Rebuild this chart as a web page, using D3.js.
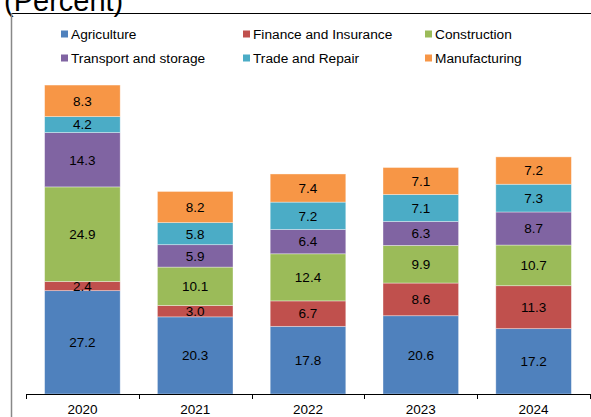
<!DOCTYPE html>
<html>
<head>
<meta charset="utf-8">
<script src="https://cdn.jsdelivr.net/npm/d3@7"></script>
<style>
  body { margin: 0; background: #fff; }
  svg { display: block; font-family: "Liberation Sans", Arial, sans-serif; }
</style>
</head>
<body>
<div id="chart"></div>
<script>
// values, bottom segment first
var years = ["2020", "2021", "2022", "2023", "2024"];
var sectors = ["Agriculture", "Finance and Insurance", "Construction", "Transport and storage", "Trade and Repair", "Manufacturing"];
var colors = ["#4F81BD", "#C0504D", "#9BBB59", "#8064A2", "#4BACC6", "#F79646"];

var agriculture = [27.2, 20.3, 17.8, 20.6, 17.2];
var finance = [2.4, 3.0, 6.7, 8.6, 11.3];
var construction = [24.9, 10.1, 12.4, 9.9, 10.7];
var transport = [14.3, 5.9, 6.4, 6.3, 8.7];
var trade = [4.2, 5.8, 7.2, 7.1, 7.3];
var manufacturing = [8.3, 8.2, 7.4, 7.1, 7.2];

var series = [agriculture, finance, construction, transport, trade, manufacturing];

let width = 591,
    height = 417;

var svg = d3.select("#chart")
    .append("svg")
    .attr("width", width)
    .attr("height", height);

// title, partly cut off at top as in the picture
svg.append("text")
    .attr("x", 4)
    .attr("y", 11)
    .style("font-size", "29px")
    .style("fill", "#000")
    .text("(Percent)");

// frame
svg.append("line")
    .attr("x1", 11).attr("x2", width)
    .attr("y1", 13.5).attr("y2", 13.5)
    .style("stroke", "#000")
    .style("stroke-width", 1);
svg.append("line")
    .attr("x1", 11.5).attr("x2", 11.5)
    .attr("y1", 13).attr("y2", height)
    .style("stroke", "#888")
    .style("stroke-width", 1.5);

var x = d3.scaleBand()
    .domain(years)
    .range([26, 590])
    .paddingInner(0.33)
    .paddingOuter(0.165);

var y = d3.scaleLinear()
    .domain([0, 90])
    .range([394, 52]);

// stack the rows
var rows = years.map(function(yr, i) {
    var row = { year: yr };
    sectors.forEach(function(s, j) { row[s] = series[j][i]; });
    return row;
});

var stacked = d3.stack().keys(sectors)(rows);

var layer = svg.selectAll("g.layer")
    .data(stacked)
    .enter()
    .append("g")
    .attr("class", "layer")
    .style("fill", function(d, i) { return colors[i]; });

layer.selectAll("rect")
    .data(function(d) { return d; })
    .enter()
    .append("rect")
    .attr("x", function(d) { return x(d.data.year); })
    .attr("y", function(d) { return y(d[1]); })
    .attr("width", x.bandwidth())
    .attr("height", function(d) { return y(d[0]) - y(d[1]); })
    .style("stroke", "#fff")
    .style("stroke-opacity", 0.45)
    .style("stroke-width", 0.8);

layer.selectAll("text")
    .data(function(d) { return d; })
    .enter()
    .append("text")
    .attr("x", function(d) { return x(d.data.year) + x.bandwidth() / 2; })
    .attr("y", function(d) { return (y(d[0]) + y(d[1])) / 2; })
    .attr("dy", "0.36em")
    .attr("text-anchor", "middle")
    .style("font-size", "13.5px")
    .style("fill", "#000")
    .text(function(d) { return (d[1] - d[0]).toFixed(1); });

// category axis with ticks between bands
var axisG = svg.append("g");
axisG.append("line")
    .attr("x1", 26).attr("x2", 590)
    .attr("y1", 394.5).attr("y2", 394.5)
    .style("stroke", "#000");

var edges = years.map(function(yr) { return x(yr) - x.step() * x.paddingInner() / 2; });
edges.push(590);

axisG.selectAll("line.tick")
    .data(edges)
    .enter()
    .append("line")
    .attr("class", "tick")
    .attr("x1", function(d) { return Math.round(d) + 0.5; })
    .attr("x2", function(d) { return Math.round(d) + 0.5; })
    .attr("y1", 394)
    .attr("y2", 399)
    .style("stroke", "#000");

axisG.selectAll("text")
    .data(years)
    .enter()
    .append("text")
    .attr("x", function(d) { return x(d) + x.bandwidth() / 2; })
    .attr("y", 414)
    .attr("text-anchor", "middle")
    .style("font-size", "13.5px")
    .style("fill", "#000")
    .text(function(d) { return d; });

// legend, two rows of three
var legendX = [61, 243, 425],
    legendY = [34, 58];

var legend = svg.selectAll("g.legend")
    .data(sectors)
    .enter()
    .append("g")
    .attr("class", "legend")
    .attr("transform", function(d, i) {
        return "translate(" + legendX[i % 3] + "," + legendY[Math.floor(i / 3)] + ")";
    });

legend.append("rect")
    .attr("x", 0)
    .attr("y", -3.5)
    .attr("width", 7)
    .attr("height", 7)
    .style("fill", function(d, i) { return colors[i]; });

legend.append("text")
    .attr("x", 10)
    .attr("y", 0)
    .attr("dy", "0.36em")
    .style("font-size", "13.7px")
    .style("fill", "#000")
    .text(function(d) { return d; });
</script>
</body>
</html>
